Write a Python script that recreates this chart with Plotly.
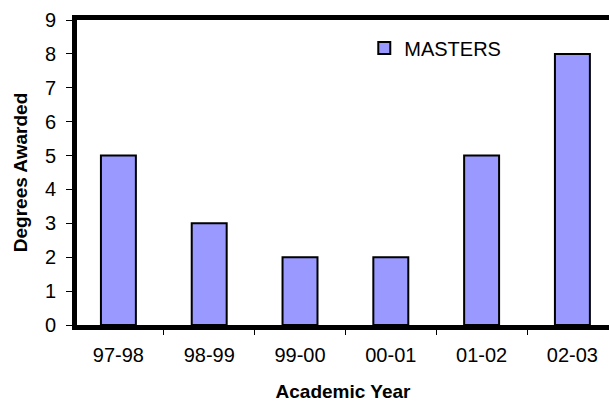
import plotly.graph_objects as go

years = ["97-98", "98-99", "99-00", "00-01", "01-02", "02-03"]
masters = [5, 3, 2, 2, 5, 8]
y_ticks = [0, 1, 2, 3, 4, 5, 6, 7, 8, 9]

FONT = "Liberation Sans, Arial, sans-serif"

fig = go.Figure()
fig.add_trace(go.Bar(
    x=years, y=masters, name="MASTERS",
    marker=dict(color="#9999FF", line=dict(color="black", width=2)),
))

fig.update_layout(
    width=609, height=402,
    margin=dict(l=77, r=0, t=20, b=77, pad=0),
    paper_bgcolor="white", plot_bgcolor="white",
    font=dict(family=FONT, size=20, color="black"),
    bargap=0.615,
    showlegend=True,
    legend=dict(x=0.54, y=0.908, xanchor="left", yanchor="middle",
                bgcolor="rgba(0,0,0,0)", font=dict(size=20), borderwidth=0,
                itemwidth=30),
    xaxis=dict(
        type="category", range=[-0.456, 5.403],
        showline=True, linewidth=5, linecolor="black", mirror=True,
        ticks="outside", tickson="boundaries", ticklen=5, tickwidth=1, tickcolor="black",
        showgrid=False, tickfont=dict(size=20), ticklabelstandoff=8,
        title=dict(text="<b>Academic Year</b>", font=dict(size=19), standoff=22),
    ),
    yaxis=dict(
        range=[0, 9], tickvals=y_ticks, ticktext=[str(v) for v in y_ticks],
        showline=True, linewidth=5, linecolor="black",
        ticks="outside", ticklen=6, tickwidth=1, tickcolor="black",
        showgrid=False, zeroline=False, tickfont=dict(size=20), ticklabelstandoff=6,
        title=dict(text="<b>Degrees Awarded</b>", font=dict(size=19), standoff=14),
    ),
)

fig.write_html("out.html", config={"displayModeBar": False},
               post_script="document.body.style.margin='0';document.body.style.overflow='hidden';")
